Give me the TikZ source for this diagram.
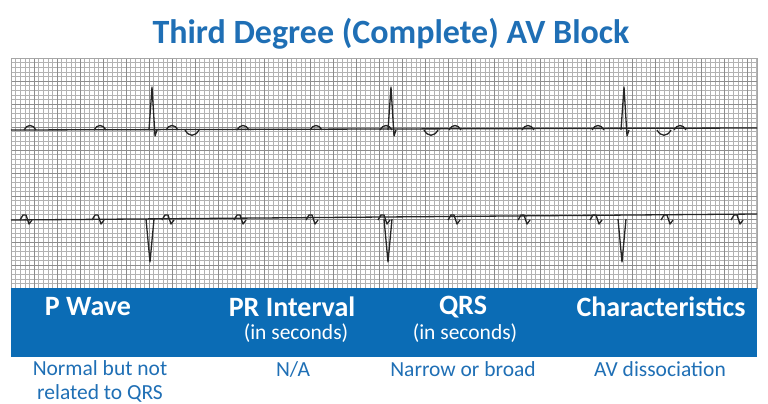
\documentclass[tikz,border=0pt]{standalone}
\usepackage{fontspec}
\setmainfont{Carlito}
\definecolor{gblue}{HTML}{0B6CB5}
\definecolor{tblue}{HTML}{1F6FB5}
\begin{document}
\begin{tikzpicture}[x=1pt,y=-1pt,
  ecg/.style={line width=1.3pt,black!85,line join=round},
  hdr/.style={text=white,font=\bfseries\fontsize{28}{30}\selectfont},
  sub/.style={text=white,font=\fontsize{21.5}{23}\selectfont},
  bot/.style={text=tblue,font=\fontsize{21.5}{24}\selectfont,align=center}]
\useasboundingbox (0,0) rectangle (768,404);
\node[text=tblue,font=\bfseries\fontsize{34}{36}\selectfont] (title) at (391,34) {Third Degree (Complete) AV Block};
\begin{scope}
\clip (11,58) rectangle (757,288);
\draw[black!30,line width=0.5pt,xshift=11pt,yshift=-58pt,step=4.6pt] (0,0) grid (760,240);
\draw[black!45,line width=0.7pt,xshift=11pt,yshift=-58pt,step=23pt] (0,0) grid (760,240);
\end{scope}
\draw[black!35] (11,58) rectangle (757,288);
% top trace
\draw[ecg] (11,130) -- (757,128);
\foreach \x in {30,100,172,243,316,386,455,528,598,680}
  \draw[ecg] (\x-6,130) .. controls (\x-3,124) and (\x+3,124) .. (\x+6,130);
\foreach \x in {153,392,625}{
  \draw[ecg] (\x-4,130) -- (\x-1,87) -- (\x+2,136) -- (\x+4,130);
  \draw[ecg] (\x+32,130) .. controls (\x+36,137) and (\x+42,137) .. (\x+46,130);}
% bottom trace
\draw[ecg] (11,220) -- (757,214);
\foreach \x in {24,96,166,238,310,382,452,522,594,665,735}
  \draw[ecg] (\x-4,220) -- (\x-1,215) -- (\x+2,215) -- (\x+5,224) -- (\x+8,220);
\foreach \x in {150,388,622}
  \draw[ecg] (\x-4,219) -- (\x,262) -- (\x+4,219);
% band
\fill[gblue] (11,288) rectangle (757,357);
\node[hdr] (h1) at (88,307) {P Wave};
\node[hdr] (h2) at (292,307) {PR Interval};
\node[sub] (s2) at (296,333) {(in seconds)};
\node[hdr] (h3) at (463,307) {QRS};
\node[sub] (s3) at (465,333) {(in seconds)};
\node[hdr] (h4) at (661,307) {Characteristics};
\node[bot] (b1) at (100,381) {Normal but not\\related to QRS};
\node[bot] (b2) at (293,369) {N/A};
\node[bot] (b3) at (463,369) {Narrow or broad};
\node[bot] (b4) at (660,369) {AV dissociation};
\end{tikzpicture}
\end{document}
